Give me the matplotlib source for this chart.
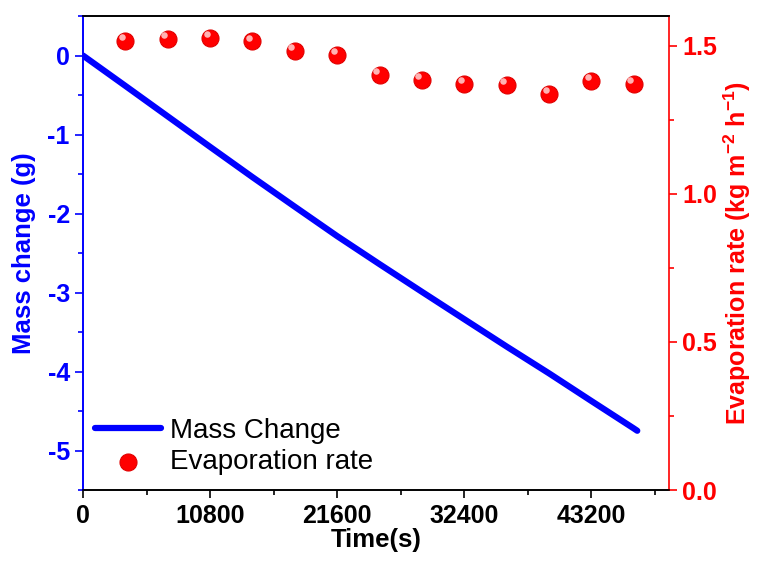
import matplotlib
matplotlib.use("Agg")
import matplotlib.pyplot as plt
import matplotlib.transforms as mtransforms
from matplotlib.ticker import MultipleLocator

plt.rcParams['font.family'] = ['Liberation Sans', 'DejaVu Sans']
plt.rcParams['axes.unicode_minus'] = False
plt.rcParams['mathtext.fontset'] = 'custom'
plt.rcParams['mathtext.bf'] = 'Liberation Sans:bold'
plt.rcParams['mathtext.rm'] = 'Liberation Sans'

# mass change (hourly + end point)
time_mass = [0, 3600, 7200, 10800, 14400, 18000, 21600, 25200, 28800,
             32400, 36000, 39600, 43200, 46800, 47100]
mass = [0, -0.384, -0.770, -1.156, -1.539, -1.914, -2.286, -2.641, -2.991,
        -3.338, -3.684, -4.023, -4.373, -4.720, -4.75]

# evaporation rate points
time_rate = [3600, 7200, 10800, 14400, 18000, 21600, 25200, 28800,
             32400, 36000, 39600, 43200, 46800]
rate = [1.517, 1.524, 1.527, 1.514, 1.483, 1.470, 1.402, 1.385,
        1.372, 1.368, 1.338, 1.382, 1.372]

xticks = [0, 10800, 21600, 32400, 43200]

blue = '#0000ff'
red = '#ff0000'

fig = plt.figure(figsize=(7.57, 5.64), dpi=100)
ax = fig.add_axes([0.1096, 0.1312, 0.7742, 0.8404])
ax2 = ax.twinx()

line, = ax.plot(time_mass, mass, color=blue, lw=4.5,
                solid_capstyle='round', label='Mass Change')

pts = ax2.scatter(time_rate, rate, s=150, color=red,
                  edgecolors='#e00000', linewidths=0.8, zorder=3,
                  label='Evaporation rate')
# little highlight to mimic the shaded spheres
shift = mtransforms.ScaledTranslation(-2.5 / 72, 2.5 / 72, fig.dpi_scale_trans)
ax2.scatter(time_rate, rate, s=22, color='#ffc8c8', alpha=0.9, zorder=4,
            linewidths=0, transform=ax2.transData + shift)

ax.set_xlim(0, 49800)
ax.set_ylim(-5.5, 0.5)
ax2.set_ylim(0, 1.6)

ax.set_xticks(xticks)
ax.xaxis.set_minor_locator(MultipleLocator(5400))
ax.yaxis.set_major_locator(MultipleLocator(1))
ax.yaxis.set_minor_locator(MultipleLocator(0.5))
ax2.yaxis.set_major_locator(MultipleLocator(0.5))
ax2.yaxis.set_minor_locator(MultipleLocator(0.25))

ax.tick_params(axis='x', which='major', direction='out', length=6, width=1.2,
               labelsize=18, pad=4)
ax.tick_params(axis='x', which='minor', direction='out', length=3.5, width=1.2)
ax.tick_params(axis='y', which='major', direction='out', length=6, width=1.2,
               colors=blue, labelsize=18)
ax.tick_params(axis='y', which='minor', direction='out', length=3.5, width=1.2,
               colors=blue)
ax2.tick_params(axis='y', which='major', direction='out', length=6, width=1.2,
                colors=red, labelsize=18)
ax2.tick_params(axis='y', which='minor', direction='out', length=3.5, width=1.2,
                colors=red)

for lab in ax.get_xticklabels() + ax.get_yticklabels() + ax2.get_yticklabels():
    lab.set_fontweight('bold')

ax.spines['left'].set_color(blue)
ax2.spines['left'].set_color(blue)
ax2.spines['right'].set_color(red)
ax.spines['right'].set_visible(False)
for sp in ['left', 'right', 'top', 'bottom']:
    ax.spines[sp].set_linewidth(1.2)
    ax2.spines[sp].set_linewidth(1.2)

ax.set_xlabel('Time(s)', fontsize=18.5, fontweight='bold', labelpad=0)
ax.set_ylabel('Mass change (g)', fontsize=18.5, fontweight='bold', color=blue,
              labelpad=8)
ax2.set_ylabel('Evaporation rate (kg m$^{\\mathbf{-2}}$ h$^{\\mathbf{-1}}$)',
               fontsize=18, fontweight='bold', color=red, labelpad=3)

leg = ax2.legend([line, pts], ['Mass Change', 'Evaporation rate'],
                 loc='lower left', bbox_to_anchor=(-0.018, -0.015), frameon=False,
                 fontsize=20, handlelength=2.4, handletextpad=0.3,
                 labelspacing=0.18, borderaxespad=0.4)

fig.savefig('out.png', dpi=100)
